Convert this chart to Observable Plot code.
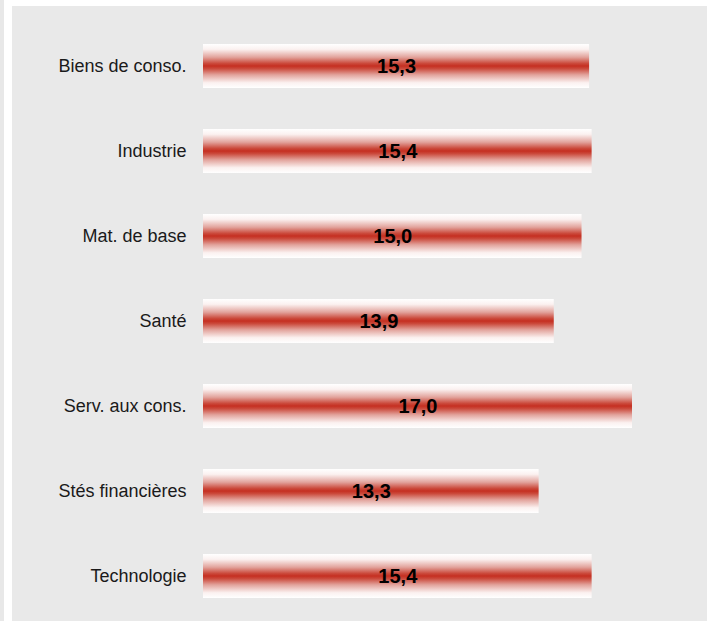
<!DOCTYPE html>
<html>
<head>
<meta charset="utf-8">
<script src="https://cdn.jsdelivr.net/npm/d3@7"></script>
<script src="https://cdn.jsdelivr.net/npm/@observablehq/plot@0.6"></script>
<style>
  html, body { margin: 0; padding: 0; background: #ffffff; }
  #wrap { position: relative; width: 710px; height: 621px; overflow: hidden; }
  #strip { position: absolute; left: 0; top: 0; width: 4px; height: 621px; background: #e8e8e8; }
  #panel { position: absolute; left: 12px; top: 6px; width: 695px; height: 615px; background: #e9e9e9; }
  #chart { position: absolute; left: 0; top: 0; }
  #chart svg { background: transparent; }
</style>
</head>
<body>
<div id="wrap">
  <div id="strip"></div>
  <div id="panel"></div>
  <div id="chart"></div>
</div>
<script>
const categories = ["Biens de conso.", "Industrie", "Mat. de base", "Santé", "Serv. aux cons.", "Stés financières", "Technologie"];
const values = [15.3, 15.4, 15.0, 13.9, 17.0, 13.3, 15.4];

const data = categories.map((c, i) => ({category: c, value: values[i]}));
const fmt = v => v.toFixed(1).replace(".", ",");

function gradientDefs() {
  const ns = "http://www.w3.org/2000/svg";
  const defs = document.createElementNS(ns, "defs");
  const lg = document.createElementNS(ns, "linearGradient");
  lg.setAttribute("id", "barGrad");
  lg.setAttribute("x1", "0"); lg.setAttribute("y1", "0");
  lg.setAttribute("x2", "0"); lg.setAttribute("y2", "1");
  const stops = [
    [0, "#ffffff"], [0.12, "#fbf1f0"], [0.3, "#e2a39c"], [0.44, "#cb4a3c"],
    [0.5, "#c52f21"], [0.56, "#cb4a3c"], [0.7, "#e2a39c"], [0.88, "#fbf1f0"], [1, "#ffffff"]
  ];
  for (const [o, c] of stops) {
    const s = document.createElementNS(ns, "stop");
    s.setAttribute("offset", o);
    s.setAttribute("stop-color", c);
    lg.appendChild(s);
  }
  defs.appendChild(lg);
  return defs;
}

const chart = Plot.plot({
  width: 710,
  height: 621,
  marginLeft: 203,
  marginRight: 78,
  marginTop: 21,
  marginBottom: 0,
  style: {fontFamily: "'Liberation Sans', Arial, sans-serif", background: "transparent", color: "#1a1a1a"},
  x: {domain: [0, 17], axis: null},
  y: {domain: categories, paddingInner: 0.486, paddingOuter: 0.25, label: null, tickSize: 0, tickPadding: 17, fontSize: 18},
  marks: [
    gradientDefs,
    Plot.barX(data, {x: "value", y: "category", fill: "url(#barGrad)"}),
    Plot.text(data, {x: d => d.value / 2, y: "category", text: d => fmt(d.value), fontWeight: "bold", fontSize: 20, fill: "#000"}),
    Plot.axisY({tickSize: 0, tickPadding: 17, fontSize: 18, label: null})
  ]
});
document.getElementById("chart").appendChild(chart);
</script>
</body>
</html>
